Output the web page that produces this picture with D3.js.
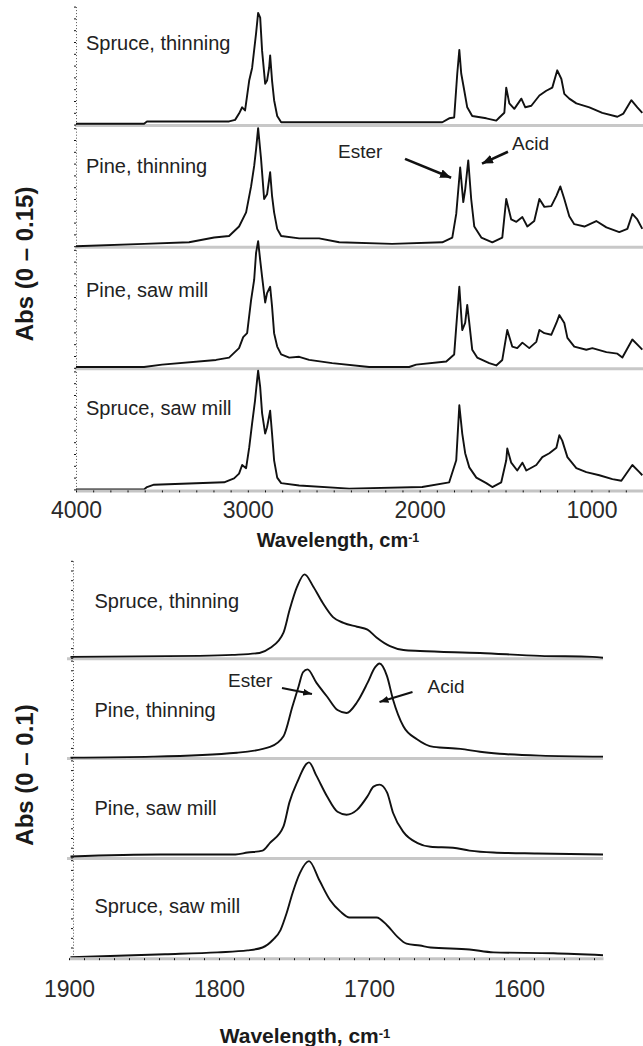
<!DOCTYPE html>
<meta charset="utf-8">
<style>
  body { margin: 0; background: #fff; }
  text { font-family: "Liberation Sans", Arial, sans-serif; fill: #222; }
  .lbl { font-size: 20px; }
  .note { font-size: 19px; }
  .xaxis text { font-size: 23px; fill: #2a2a2a; }
  .title { font-weight: bold; fill: #1a1a1a; }
  .yaxis path { stroke: #555; stroke-dasharray: 1 2; }
  .yaxis line, .xaxis line { stroke: #111; }
  .xaxis path { stroke: #c4c4c4; stroke-width: 3; }
</style>
<body>
<div id="chart"></div>
<script src="https://d3js.org/d3.v7.min.js"></script>
<script>

// sample names, same order in both panels (top to bottom)
var sampleNames = ["Spruce, thinning", "Pine, thinning", "Pine, saw mill", "Spruce, saw mill"];

// ---- full spectra, [wavenumber cm-1, absorbance] ----
var spruceThinFull = [[4000,0.001],[3604,0.001],[3587,0.004],[3109,0.004],[3074,0.006],[3051,0.014],[3033,0.022],[3016,0.018],[2992,0.056],[2975,0.072],[2952,0.116],[2940,0.142],[2928,0.136],[2917,0.094],[2899,0.052],[2888,0.056],[2876,0.072],[2870,0.088],[2859,0.056],[2847,0.031],[2829,0.011],[2806,0.003],[2585,0.003],[1868,0.003],[1828,0.008],[1799,0.009],[1781,0.065],[1769,0.095],[1758,0.065],[1740,0.043],[1723,0.022],[1694,0.011],[1612,0.008],[1554,0.005],[1536,0.009],[1507,0.015],[1496,0.047],[1478,0.027],[1449,0.020],[1408,0.033],[1385,0.022],[1350,0.024],[1303,0.037],[1263,0.043],[1228,0.047],[1199,0.069],[1175,0.058],[1158,0.039],[1129,0.033],[1088,0.027],[1012,0.022],[937,0.015],[849,0.010],[814,0.014],[768,0.031],[733,0.022],[704,0.015]];

var pineThinFull = [[4000,0.000],[3604,0.003],[3342,0.005],[3196,0.011],[3109,0.013],[3051,0.025],[3010,0.043],[2981,0.076],[2963,0.102],[2952,0.123],[2940,0.150],[2923,0.111],[2905,0.060],[2888,0.066],[2870,0.094],[2859,0.064],[2847,0.043],[2829,0.022],[2806,0.013],[2701,0.010],[2585,0.010],[2468,0.005],[2160,0.003],[1868,0.005],[1810,0.011],[1787,0.041],[1764,0.100],[1746,0.056],[1735,0.072],[1717,0.109],[1700,0.060],[1682,0.025],[1641,0.011],[1577,0.005],[1519,0.011],[1496,0.060],[1467,0.034],[1437,0.031],[1402,0.037],[1373,0.025],[1333,0.032],[1303,0.060],[1274,0.050],[1234,0.051],[1204,0.064],[1181,0.076],[1158,0.060],[1129,0.038],[1100,0.028],[1041,0.025],[972,0.032],[913,0.024],[838,0.018],[791,0.022],[762,0.041],[733,0.034],[704,0.022]];

var pineMillFull = [[4000,0.001],[3604,0.001],[3499,0.004],[3185,0.010],[3109,0.013],[3051,0.025],[3027,0.039],[3004,0.044],[2981,0.086],[2963,0.112],[2952,0.146],[2940,0.161],[2928,0.137],[2917,0.116],[2899,0.083],[2888,0.095],[2870,0.103],[2859,0.078],[2847,0.044],[2829,0.027],[2806,0.017],[2759,0.013],[2701,0.014],[2643,0.010],[2509,0.006],[2294,0.001],[2061,0.001],[2020,0.004],[1845,0.008],[1799,0.017],[1787,0.052],[1769,0.103],[1752,0.048],[1735,0.057],[1723,0.080],[1711,0.057],[1694,0.023],[1665,0.013],[1595,0.006],[1554,0.003],[1519,0.010],[1490,0.048],[1461,0.027],[1432,0.025],[1402,0.032],[1362,0.025],[1321,0.033],[1303,0.048],[1274,0.044],[1234,0.042],[1204,0.057],[1187,0.067],[1158,0.057],[1140,0.038],[1100,0.027],[1030,0.023],[995,0.025],[913,0.020],[849,0.018],[820,0.013],[762,0.036],[721,0.027],[704,0.023]];

var spruceMillFull = [[4000,0.000],[3604,0.000],[3587,0.003],[3546,0.006],[3138,0.009],[3080,0.014],[3051,0.020],[3033,0.031],[3010,0.027],[2992,0.053],[2975,0.084],[2958,0.113],[2946,0.139],[2940,0.151],[2928,0.130],[2917,0.097],[2899,0.071],[2888,0.079],[2870,0.100],[2859,0.071],[2847,0.037],[2829,0.015],[2806,0.008],[2701,0.005],[2410,0.001],[1985,0.003],[1828,0.009],[1787,0.037],[1769,0.107],[1752,0.071],[1735,0.046],[1711,0.028],[1670,0.015],[1612,0.008],[1577,0.003],[1525,0.009],[1496,0.037],[1490,0.052],[1467,0.034],[1432,0.024],[1402,0.034],[1379,0.024],[1321,0.031],[1286,0.041],[1245,0.046],[1204,0.053],[1187,0.069],[1170,0.062],[1140,0.041],[1088,0.027],[1030,0.022],[954,0.018],[878,0.013],[826,0.011],[762,0.031],[721,0.022],[704,0.018]];

// ---- carbonyl region, [wavenumber cm-1, absorbance] ----
var spruceThinCO = [[1899,0.001],[1813,0.002],[1791,0.003],[1773,0.005],[1766,0.010],[1757,0.026],[1753,0.049],[1748,0.073],[1743,0.086],[1737,0.073],[1731,0.057],[1724,0.042],[1717,0.036],[1708,0.032],[1701,0.029],[1695,0.021],[1686,0.012],[1677,0.008],[1666,0.007],[1626,0.005],[1586,0.002],[1551,0.001],[1544,0.000]];

var pineThinCO = [[1899,0.000],[1844,0.001],[1788,0.005],[1766,0.011],[1757,0.022],[1751,0.053],[1747,0.073],[1744,0.088],[1741,0.091],[1735,0.077],[1728,0.063],[1721,0.049],[1715,0.046],[1708,0.057],[1701,0.077],[1696,0.093],[1693,0.097],[1688,0.084],[1684,0.060],[1677,0.032],[1668,0.019],[1657,0.011],[1639,0.009],[1626,0.006],[1613,0.004],[1586,0.002],[1544,0.001]];

var pineMillCO = [[1899,0.001],[1839,0.003],[1789,0.003],[1781,0.005],[1771,0.007],[1766,0.015],[1757,0.032],[1753,0.057],[1748,0.077],[1740,0.098],[1735,0.084],[1728,0.063],[1721,0.047],[1715,0.044],[1708,0.049],[1701,0.063],[1697,0.073],[1693,0.075],[1688,0.067],[1684,0.046],[1677,0.026],[1668,0.015],[1659,0.011],[1644,0.010],[1633,0.007],[1617,0.005],[1588,0.004],[1544,0.003]];

var spruceMillCO = [[1899,0.000],[1836,0.003],[1801,0.005],[1781,0.007],[1771,0.010],[1764,0.018],[1759,0.028],[1755,0.045],[1751,0.066],[1746,0.087],[1740,0.099],[1733,0.079],[1726,0.059],[1719,0.047],[1713,0.041],[1695,0.041],[1688,0.033],[1681,0.021],[1675,0.014],[1666,0.012],[1659,0.010],[1633,0.008],[1617,0.005],[1577,0.004],[1544,0.002]];

// x tick labels
var fullTicks = [4000, 3000, 2000, 1000];
var coTicks = [1900, 1800, 1700, 1600];

// annotations on the "Pine, thinning" trace: text start, arrow tail, arrow head
var fullNotes = [
  {text: "Ester", tx: 2475, ty: 0.1125, x1: 2085, y1: 0.111, x2: 1817, y2: 0.087},
  {text: "Acid",  tx: 1462, ty: 0.1227, x1: 1486, y1: 0.120, x2: 1637, y2: 0.105}
];
var coNotes = [
  {text: "Ester", tx: 1794, ty: 0.0728, x1: 1758, y1: 0.0718, x2: 1738, y2: 0.0656},
  {text: "Acid",  tx: 1661, ty: 0.0666, x1: 1671, y1: 0.0677, x2: 1693, y2: 0.0573}
];

var svg = d3.select("#chart")
  .append("svg")
    .attr("width", 643)
    .attr("height", 1046);

function addArrow(id, w, h) {
  svg.append("defs").append("marker")
    .attr("id", id)
    .attr("markerUnits", "userSpaceOnUse")
    .attr("markerWidth", w).attr("markerHeight", h)
    .attr("refX", w).attr("refY", h / 2)
    .attr("orient", "auto")
    .append("path")
      .attr("d", "M0,0 L" + w + "," + (h / 2) + " L0," + h + " Z")
      .attr("fill", "#111");
}
addArrow("headBig", 11, 9);
addArrow("headSmall", 9, 7);

// draws one stacked group of 4 spectra
function drawStack(p) {
  var x = d3.scaleLinear().domain(p.domain).range(p.xRange);
  var last;
  p.series.forEach(function(s, i) {
    var base = p.top + p.step * (i + 1);
    var y = d3.scaleLinear().domain([0, p.yMax]).range([base, base - p.yPx]);
    last = y;

    // grey separator / baseline
    if (i < p.series.length - 1) {
      svg.append("line")
        .attr("x1", p.sepX[0]).attr("x2", p.sepX[1])
        .attr("y1", base + 1).attr("y2", base + 1)
        .attr("stroke", "#c8c8c8")
        .attr("stroke-width", 3);
    }

    // dotted y axis
    svg.append("g")
      .attr("class", "yaxis")
      .attr("transform", "translate(" + p.axisX + ",0)")
      .call(d3.axisLeft(y).tickValues(d3.range(0, p.yMax * 1.001, p.yStep)).tickSize(2).tickFormat("").tickSizeOuter(0));

    svg.append("path")
      .datum(s)
      .attr("fill", "none")
      .attr("stroke", "#111")
      .attr("stroke-width", 1.9)
      .attr("stroke-linejoin", "round")
      .attr("d", d3.line()
        .curve(p.curve)
        .x(function(d) { return x(d[0]); })
        .y(function(d) { return y(d[1]); }));

    svg.append("text")
      .attr("class", "lbl")
      .attr("x", x(p.labelWn))
      .attr("y", y(p.labelAbs[i]))
      .text(sampleNames[i]);

    if (i == 1) {
      p.notes.forEach(function(n) {
        svg.append("text").attr("class", "note")
          .attr("x", x(n.tx)).attr("y", y(n.ty)).text(n.text);
        svg.append("line")
          .attr("x1", x(n.x1)).attr("y1", y(n.y1))
          .attr("x2", x(n.x2)).attr("y2", y(n.y2))
          .attr("stroke", "#111")
          .attr("stroke-width", p.arrowW)
          .attr("marker-end", "url(#" + p.arrow + ")");
      });
    }
  });

  // x axis along the last baseline: minor dots + labels
  var axisY = last(0) + 1;
  svg.append("g")
    .attr("class", "xaxis")
    .attr("transform", "translate(0," + axisY + ")")
    .call(d3.axisBottom(x).tickValues(d3.range(p.domain[0], p.domain[1] - 1, -p.minor)).tickSize(2).tickFormat("").tickSizeOuter(0));
  svg.append("g")
    .attr("class", "xaxis")
    .attr("transform", "translate(0," + axisY + ")")
    .call(d3.axisBottom(x).tickValues(p.ticks).tickSize(0).tickPadding(p.labelPad).tickFormat(d3.format("d")))
    .call(function(g) { g.select(".domain").remove(); });

  var t = svg.append("text")
    .attr("class", "title")
    .attr("x", p.titleX).attr("y", p.titleY)
    .attr("text-anchor", "middle")
    .style("font-size", p.titleSize + "px")
    .text("Wavelength, cm");
  t.append("tspan").attr("dy", "-0.4em").style("font-size", "0.62em").text("-1");

  svg.append("text")
    .attr("class", "title")
    .attr("transform", "translate(" + p.yTitleX + "," + p.yTitleY + ") rotate(-90)")
    .attr("text-anchor", "middle")
    .style("font-size", "24px")
    .text(p.yTitle);
}

drawStack({
  series: [spruceThinFull, pineThinFull, pineMillFull, spruceMillFull],
  domain: [4000, 700], xRange: [76, 643], curve: d3.curveLinear,
  top: 3, step: 121.6, yMax: 0.15, yPx: 118, yStep: 0.015,
  axisX: 76, sepX: [75, 643],
  labelWn: 3942, labelAbs: [0.095, 0.093, 0.090, 0.095],
  notes: fullNotes, arrow: "headBig", arrowW: 2.6,
  ticks: fullTicks, minor: 100, labelPad: 11,
  titleX: 338, titleY: 547, titleSize: 20,
  yTitle: "Abs (0 \u2013 0.15)", yTitleX: 33, yTitleY: 264
});

drawStack({
  series: [spruceThinCO, pineThinCO, pineMillCO, spruceMillCO],
  domain: [1900, 1544], xRange: [69, 603], curve: d3.curveMonotoneX,
  top: 558, step: 99.8, yMax: 0.1, yPx: 97, yStep: 0.01,
  axisX: 73, sepX: [67, 603],
  labelWn: 1883, labelAbs: [0.0515, 0.042, 0.044, 0.046],
  notes: coNotes, arrow: "headSmall", arrowW: 2.2,
  ticks: coTicks, minor: 10, labelPad: 22,
  titleX: 305, titleY: 1043, titleSize: 21,
  yTitle: "Abs (0 \u2013 0.1)", yTitleX: 33, yTitleY: 775
});

</script>
</body>
